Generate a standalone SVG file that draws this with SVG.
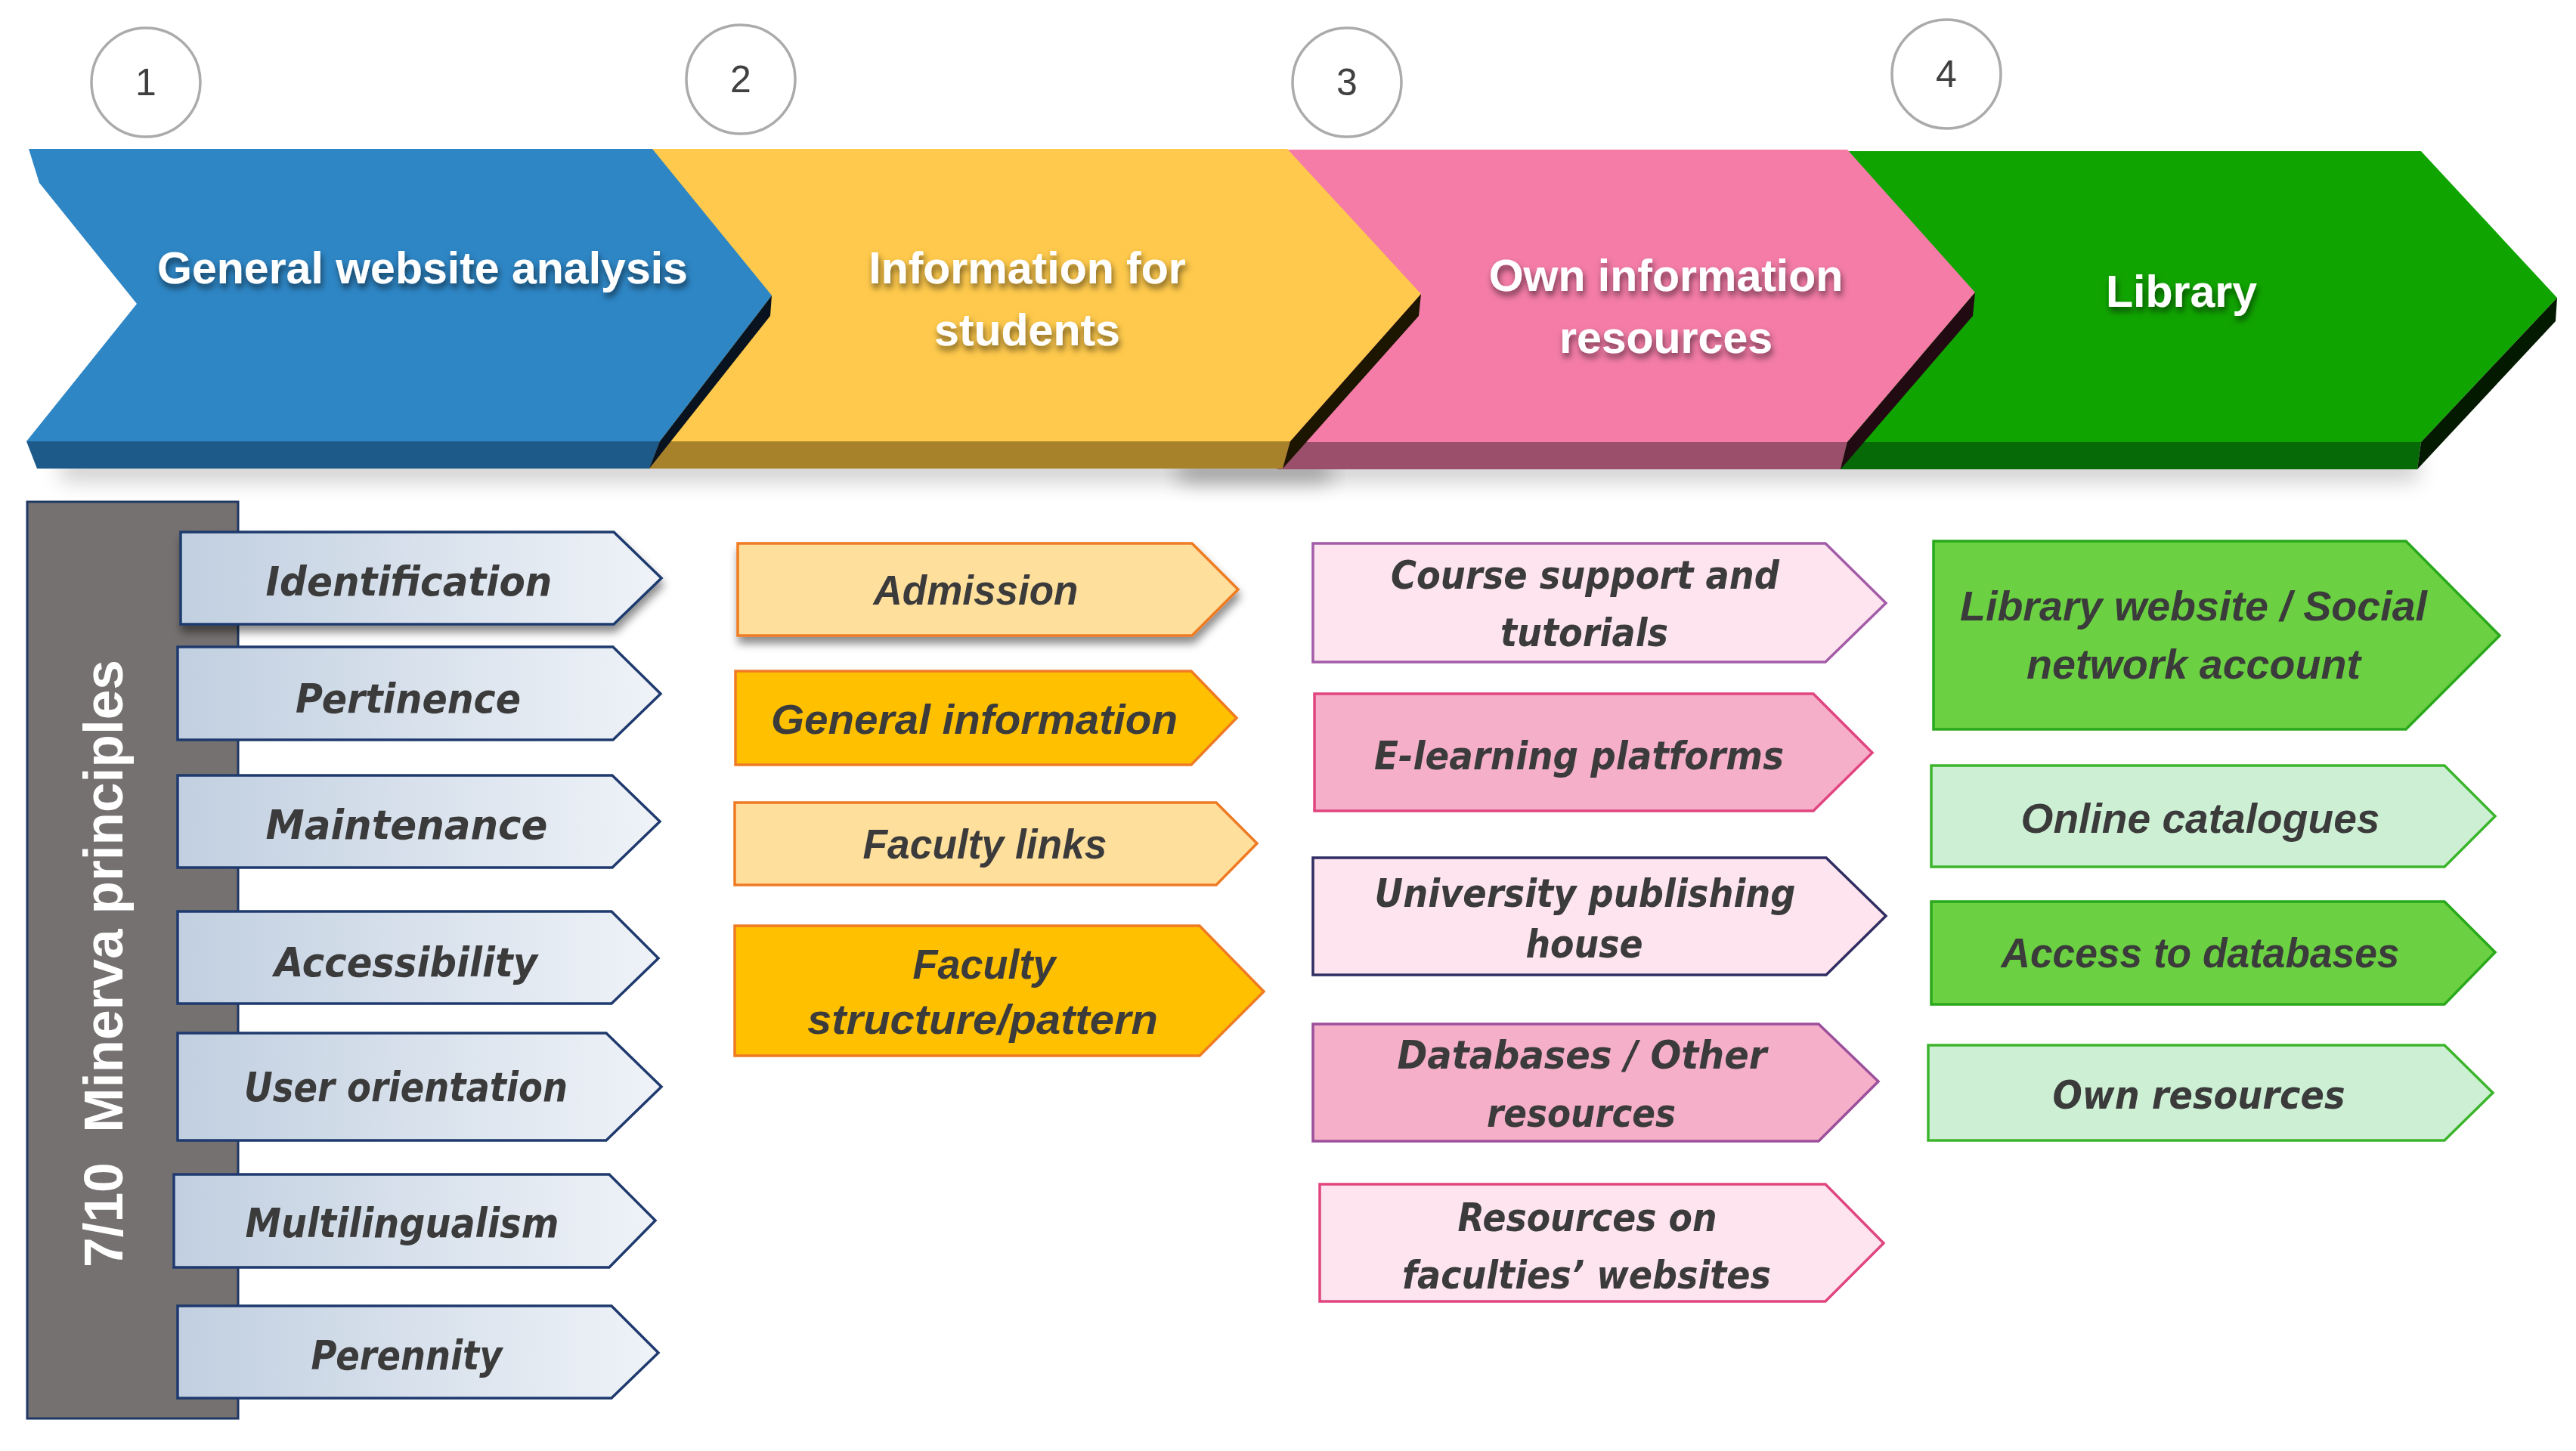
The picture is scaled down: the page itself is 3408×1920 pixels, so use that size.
<svg xmlns="http://www.w3.org/2000/svg" width="3408" height="1920" viewBox="0 0 3408 1920">
<defs>
<style>
.hdr{font-family:"Liberation Sans",Arial,sans-serif;font-weight:bold;font-size:59px;fill:#fff;text-anchor:middle}
.num{font-family:"Liberation Sans",Arial,sans-serif;font-size:50px;fill:#404040;text-anchor:middle}
.circ{fill:#fff;stroke:#ababab;stroke-width:3.5}
.v{font-family:"DejaVu Sans",Verdana,sans-serif;font-weight:bold;font-style:italic;fill:#3b3b3b;text-anchor:middle}
.c{font-family:"Liberation Sans",Arial,sans-serif;font-weight:bold;font-style:italic;fill:#3b3b3b;text-anchor:middle}
.blu{fill:url(#gBlue);stroke:#1f3a6e;stroke-width:3.5}
.orL{fill:#ffdf9c;stroke:#ee7b24;stroke-width:3.5}
.orD{fill:#ffc000;stroke:#ee7b24;stroke-width:3.5}
.pkL{fill:#fde4ee}
.pkD{fill:#f5afc8}
.grD{fill:#6bd142;stroke:#2aa81c;stroke-width:3.5}
.grL{fill:#cdf0d5;stroke:#3cb52c;stroke-width:3.5}
</style>
<linearGradient id="gBlue" x1="0" y1="0" x2="1" y2="0">
<stop offset="0" stop-color="#c1cfe0"/>
<stop offset="1" stop-color="#eff3f8"/>
</linearGradient>
<filter id="tshadow" x="-10%" y="-30%" width="120%" height="180%">
<feGaussianBlur in="SourceAlpha" stdDeviation="4"/>
<feOffset dx="2" dy="6" result="b"/>
<feFlood flood-color="#000" flood-opacity="0.55"/>
<feComposite in2="b" operator="in"/>
<feMerge><feMergeNode/><feMergeNode in="SourceGraphic"/></feMerge>
</filter>
<filter id="dshadow" x="-10%" y="-20%" width="125%" height="160%">
<feDropShadow dx="2" dy="9" stdDeviation="6" flood-color="#000" flood-opacity="0.45"/>
</filter>
<filter id="blur" x="-10%" y="-200%" width="120%" height="500%">
<feGaussianBlur stdDeviation="14"/>
</filter>
</defs>
<rect width="3408" height="1920" fill="#fff"/>

<g id="shadows">
<rect x="80" y="606" width="3120" height="30" fill="#000" opacity="0.2" filter="url(#blur)"/>
<rect x="1560" y="612" width="200" height="26" fill="#000" opacity="0.3" filter="url(#blur)"/>
</g>

<g id="step4">
<polygon points="2430,200 3203,200 3383,394 3203,585 2430,585" fill="#10a400"/>
<polygon points="2430,585 3203,585 3198,621 2270,621 2270,600" fill="#066a06"/>
<polygon points="3383,394 3381,425 3198,621 3203,585" fill="#031a00"/>
<text class="hdr" x="2886" y="406" filter="url(#tshadow)">Library</text>
</g>
<g id="step3">
<polygon points="1690,198 2444,198 2613,387 2444,585 1690,585" fill="#f47ca7"/>
<polygon points="1690,585 2444,585 2435,621 1690,621" fill="#9b4f6b"/>
<polygon points="2613,387 2610,418 2435,621 2444,585" fill="#220a12"/>
<text class="hdr" x="2204" y="385" filter="url(#tshadow)">Own information</text>
<text class="hdr" x="2204" y="467" filter="url(#tshadow)">resources</text>
</g>
<g id="step2">
<polygon points="850,197 1703,197 1880,389 1707,584 850,584" fill="#fec94c"/>
<polygon points="850,584 1707,584 1697,620 850,620" fill="#a8822b"/>
<polygon points="1880,389 1877,418 1697,620 1707,584" fill="#1c1500"/>
<text class="hdr" x="1359" y="375" filter="url(#tshadow)">Information for</text>
<text class="hdr" x="1359" y="457" filter="url(#tshadow)">students</text>
</g>
<g id="step1">
<polygon points="38,197 863,197 1021,391 873,584 35,584 181,402 52,242" fill="#2e86c5"/>
<polygon points="35,584 873,584 859,620 49,620" fill="#1d5a8a"/>
<polygon points="1021,391 1019,418 859,620 873,584" fill="#08131f"/>
<text class="hdr" x="559" y="375" filter="url(#tshadow)">General website analysis</text>
</g>

<g id="num1"><circle class="circ" cx="193" cy="109" r="72"/><text class="num" x="193" y="126">1</text></g>
<g id="num2"><circle class="circ" cx="980" cy="105" r="72"/><text class="num" x="980" y="122">2</text></g>
<g id="num3"><circle class="circ" cx="1782" cy="109" r="72"/><text class="num" x="1782" y="126">3</text></g>
<g id="num4"><circle class="circ" cx="2575" cy="98" r="72"/><text class="num" x="2575" y="115">4</text></g>

<g id="minerva">
<rect x="36" y="664" width="279" height="1213" fill="#767171" stroke="#1f3864" stroke-width="3"/>
<text x="0" y="0" transform="translate(162,1677) rotate(-90)" font-family="Liberation Sans, Arial, sans-serif" font-weight="bold" font-size="72" fill="#fff" xml:space="preserve" textLength="804" lengthAdjust="spacingAndGlyphs">7/10  Minerva principles</text>
</g>

<g id="identification"><polygon class="blu" filter="url(#dshadow)" points="239,704 812,704 875,765 812,826 239,826"/><text class="v" font-size="54" x="541" y="788" textLength="379" lengthAdjust="spacingAndGlyphs">Identification</text></g>
<g id="pertinence"><polygon class="blu" points="235,856 811,856 874,918 811,979 235,979"/><text class="v" font-size="54" x="540" y="943" textLength="298" lengthAdjust="spacingAndGlyphs">Pertinence</text></g>
<g id="maintenance"><polygon class="blu" points="235,1026 810,1026 873,1087 810,1148 235,1148"/><text class="v" font-size="54" x="538" y="1110" textLength="373" lengthAdjust="spacingAndGlyphs">Maintenance</text></g>
<g id="accessibility"><polygon class="blu" points="235,1206 809,1206 871,1268 809,1328 235,1328"/><text class="v" font-size="54" x="537" y="1292" textLength="348" lengthAdjust="spacingAndGlyphs">Accessibility</text></g>
<g id="user-orientation"><polygon class="blu" points="235,1367 802,1367 875,1438 802,1509 235,1509"/><text class="v" font-size="54" x="537" y="1457" textLength="428" lengthAdjust="spacingAndGlyphs">User orientation</text></g>
<g id="multilingualism"><polygon class="blu" points="230,1554 806,1554 867,1615 806,1677 230,1677"/><text class="v" font-size="54" x="532" y="1637" textLength="415" lengthAdjust="spacingAndGlyphs">Multilingualism</text></g>
<g id="perennity"><polygon class="blu" points="235,1728 809,1728 871,1790 809,1850 235,1850"/><text class="v" font-size="54" x="538" y="1812" textLength="253" lengthAdjust="spacingAndGlyphs">Perennity</text></g>

<g id="admission"><polygon class="orL" filter="url(#dshadow)" points="976,719 1577,719 1638,780 1577,841 976,841"/><text class="c" font-size="55" x="1291" y="800" textLength="271" lengthAdjust="spacingAndGlyphs">Admission</text></g>
<g id="general-information"><polygon class="orD" points="973,888 1576,888 1636,950 1576,1012 973,1012"/><text class="c" font-size="55" x="1289" y="971" textLength="538" lengthAdjust="spacingAndGlyphs">General information</text></g>
<g id="faculty-links"><polygon class="orL" points="972,1062 1609,1062 1663,1116 1609,1171 972,1171"/><text class="c" font-size="55" x="1303" y="1136" textLength="323" lengthAdjust="spacingAndGlyphs">Faculty links</text></g>
<g id="faculty-structure"><polygon class="orD" points="972,1225 1587,1225 1672,1312 1587,1397 972,1397"/><text class="c" font-size="55" x="1302" y="1295" textLength="189" lengthAdjust="spacingAndGlyphs">Faculty</text><text class="c" font-size="55" x="1300" y="1368" textLength="464" lengthAdjust="spacingAndGlyphs">structure/pattern</text></g>

<g id="course-support"><polygon class="pkL" stroke="#a45ca8" stroke-width="3.5" points="1737,719 2415,719 2495,798 2415,876 1737,876"/><text class="v" font-size="51" x="2097" y="779" textLength="514" lengthAdjust="spacingAndGlyphs">Course support and</text><text class="v" font-size="51" x="2096" y="855" textLength="222" lengthAdjust="spacingAndGlyphs">tutorials</text></g>
<g id="e-learning"><polygon class="pkD" stroke="#e0457f" stroke-width="3.5" points="1739,918 2399,918 2477,996 2399,1073 1739,1073"/><text class="v" font-size="51" x="2089" y="1018" textLength="542" lengthAdjust="spacingAndGlyphs">E-learning platforms</text></g>
<g id="university-publishing"><polygon class="pkL" stroke="#2f2d62" stroke-width="3.5" points="1737,1135 2416,1135 2495,1212 2416,1290 1737,1290"/><text class="v" font-size="51" x="2097" y="1200" textLength="557" lengthAdjust="spacingAndGlyphs">University publishing</text><text class="v" font-size="51" x="2096" y="1267" textLength="155" lengthAdjust="spacingAndGlyphs">house</text></g>
<g id="databases-other"><polygon class="pkD" stroke="#9c4f9b" stroke-width="3.5" points="1737,1355 2406,1355 2485,1431 2406,1510 1737,1510"/><text class="v" font-size="51" x="2093" y="1414" textLength="489" lengthAdjust="spacingAndGlyphs">Databases / Other</text><text class="v" font-size="51" x="2092" y="1491" textLength="250" lengthAdjust="spacingAndGlyphs">resources</text></g>
<g id="faculty-resources"><polygon class="pkL" stroke="#e0457f" stroke-width="3.5" points="1746,1567 2415,1567 2492,1645 2415,1722 1746,1722"/><text class="v" font-size="51" x="2100" y="1629" textLength="343" lengthAdjust="spacingAndGlyphs">Resources on</text><text class="v" font-size="51" x="2099" y="1705" textLength="488" lengthAdjust="spacingAndGlyphs">faculties’ websites</text></g>

<g id="library-website"><polygon class="grD" points="2558,716 3183,716 3307,841 3183,965 2558,965"/><text class="c" font-size="56" x="2902" y="821" textLength="618" lengthAdjust="spacingAndGlyphs">Library website / Social</text><text class="c" font-size="56" x="2902" y="898" textLength="442" lengthAdjust="spacingAndGlyphs">network account</text></g>
<g id="online-catalogues"><polygon class="grL" points="2555,1013 3234,1013 3301,1080 3234,1147 2555,1147"/><text class="c" font-size="56" x="2911" y="1102" textLength="475" lengthAdjust="spacingAndGlyphs">Online catalogues</text></g>
<g id="access-databases"><polygon class="grD" points="2555,1193 3234,1193 3301,1260 3234,1329 2555,1329"/><text class="c" font-size="56" x="2911" y="1280" textLength="527" lengthAdjust="spacingAndGlyphs">Access to databases</text></g>
<g id="own-resources"><polygon class="grL" points="2551,1383 3234,1383 3298,1446 3234,1509 2551,1509"/><text class="v" font-size="52" x="2909" y="1467" textLength="387" lengthAdjust="spacingAndGlyphs">Own resources</text></g>

<g id="connectors"></g>
</svg>
